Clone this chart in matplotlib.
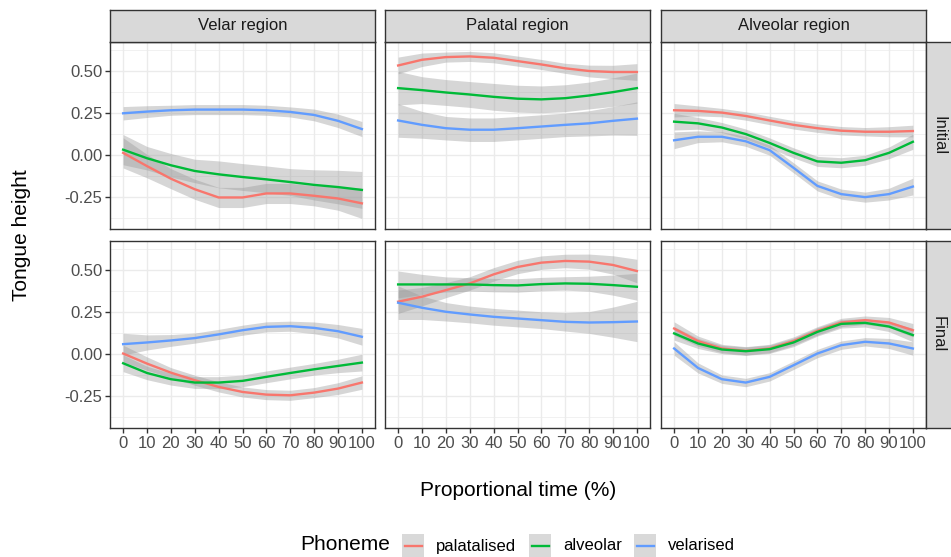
# -*- coding: utf-8 -*-

### Tongue height trajectories, faceted by region and position ###

import matplotlib.pyplot as plt
from matplotlib.lines import Line2D
from matplotlib.patches import Rectangle

plt.rcParams['font.family'] = ['Liberation Sans', 'DejaVu Sans']

## Data ##

time = [0, 10, 20, 30, 40, 50, 60, 70, 80, 90, 100]
regions = ["Velar region", "Palatal region", "Alveolar region"]
positions = ["Initial", "Final"]
phonemes = ["palatalised", "alveolar", "velarised"]

# Initial position
velar_init_pal = [0.014, -0.065, -0.14, -0.203, -0.252, -0.252, -0.228, -0.228, -0.242, -0.258, -0.287]
velar_init_alv = [0.033, -0.018, -0.06, -0.094, -0.114, -0.13, -0.144, -0.16, -0.177, -0.19, -0.207]
velar_init_vel = [0.25, 0.26, 0.268, 0.272, 0.272, 0.272, 0.268, 0.258, 0.24, 0.205, 0.156]
palatal_init_pal = [0.535, 0.569, 0.585, 0.589, 0.581, 0.561, 0.541, 0.518, 0.502, 0.496, 0.496]
palatal_init_alv = [0.40, 0.388, 0.374, 0.362, 0.348, 0.337, 0.333, 0.34, 0.356, 0.376, 0.40]
palatal_init_vel = [0.207, 0.181, 0.161, 0.152, 0.152, 0.161, 0.171, 0.181, 0.19, 0.205, 0.218]
alveolar_init_pal = [0.268, 0.264, 0.254, 0.234, 0.207, 0.181, 0.161, 0.146, 0.14, 0.14, 0.144]
alveolar_init_alv = [0.20, 0.19, 0.165, 0.126, 0.073, 0.014, -0.037, -0.045, -0.03, 0.014, 0.08]
alveolar_init_vel = [0.089, 0.11, 0.11, 0.083, 0.03, -0.075, -0.183, -0.232, -0.25, -0.232, -0.187]

# Final position
velar_fin_pal = [0.004, -0.056, -0.11, -0.155, -0.195, -0.225, -0.241, -0.245, -0.229, -0.205, -0.169]
velar_fin_alv = [-0.054, -0.112, -0.149, -0.169, -0.169, -0.159, -0.135, -0.112, -0.09, -0.07, -0.05]
velar_fin_vel = [0.06, 0.07, 0.082, 0.096, 0.118, 0.143, 0.163, 0.167, 0.157, 0.137, 0.104]
palatal_fin_pal = [0.313, 0.343, 0.382, 0.422, 0.476, 0.52, 0.546, 0.556, 0.552, 0.532, 0.496]
palatal_fin_alv = [0.416, 0.416, 0.416, 0.416, 0.412, 0.41, 0.418, 0.422, 0.42, 0.412, 0.402]
palatal_fin_vel = [0.307, 0.277, 0.253, 0.237, 0.223, 0.213, 0.203, 0.193, 0.189, 0.191, 0.195]
alveolar_fin_pal = [0.153, 0.078, 0.034, 0.02, 0.034, 0.078, 0.139, 0.189, 0.203, 0.189, 0.143]
alveolar_fin_alv = [0.124, 0.064, 0.028, 0.018, 0.03, 0.07, 0.133, 0.181, 0.187, 0.165, 0.114]
alveolar_fin_vel = [0.034, -0.082, -0.149, -0.169, -0.135, -0.066, 0.004, 0.054, 0.074, 0.064, 0.034]

# Confidence band half-widths
velar_init_pal_ci = [0.09, 0.07, 0.06, 0.06, 0.06, 0.06, 0.06, 0.06, 0.06, 0.07, 0.09]
velar_init_alv_ci = [0.09, 0.07, 0.07, 0.07, 0.08, 0.08, 0.08, 0.08, 0.09, 0.10, 0.11]
velar_init_vel_ci = [0.04, 0.035, 0.03, 0.03, 0.03, 0.03, 0.03, 0.03, 0.035, 0.04, 0.045]
palatal_init_pal_ci = [0.05, 0.04, 0.03, 0.03, 0.03, 0.03, 0.03, 0.03, 0.035, 0.04, 0.05]
palatal_init_alv_ci = [0.10, 0.08, 0.077, 0.077, 0.08, 0.08, 0.08, 0.08, 0.08, 0.085, 0.09]
palatal_init_vel_ci = [0.10, 0.08, 0.07, 0.07, 0.07, 0.07, 0.07, 0.07, 0.075, 0.085, 0.10]
alveolar_init_pal_ci = [0.04, 0.03, 0.025, 0.025, 0.025, 0.025, 0.025, 0.025, 0.025, 0.03, 0.035]
alveolar_init_alv_ci = [0.05, 0.035, 0.03, 0.03, 0.03, 0.03, 0.03, 0.03, 0.03, 0.035, 0.045]
alveolar_init_vel_ci = [0.05, 0.035, 0.03, 0.03, 0.03, 0.03, 0.03, 0.03, 0.03, 0.035, 0.05]
velar_fin_pal_ci = [0.05, 0.04, 0.03, 0.03, 0.03, 0.03, 0.03, 0.03, 0.03, 0.035, 0.04]
velar_fin_alv_ci = [0.05, 0.04, 0.035, 0.035, 0.035, 0.035, 0.035, 0.035, 0.035, 0.04, 0.05]
velar_fin_vel_ci = [0.065, 0.045, 0.035, 0.03, 0.03, 0.03, 0.03, 0.03, 0.035, 0.04, 0.05]
palatal_fin_pal_ci = [0.07, 0.055, 0.045, 0.04, 0.04, 0.04, 0.04, 0.04, 0.045, 0.055, 0.07]
palatal_fin_alv_ci = [0.08, 0.06, 0.045, 0.04, 0.04, 0.04, 0.04, 0.04, 0.045, 0.06, 0.08]
palatal_fin_vel_ci = [0.10, 0.07, 0.055, 0.05, 0.05, 0.05, 0.05, 0.055, 0.065, 0.09, 0.12]
alveolar_fin_pal_ci = [0.04, 0.03, 0.025, 0.025, 0.025, 0.025, 0.025, 0.025, 0.025, 0.03, 0.04]
alveolar_fin_alv_ci = [0.04, 0.03, 0.025, 0.025, 0.025, 0.025, 0.025, 0.025, 0.025, 0.03, 0.04]
alveolar_fin_vel_ci = [0.04, 0.03, 0.025, 0.025, 0.025, 0.025, 0.025, 0.025, 0.025, 0.03, 0.04]

series = {
    ("Initial", "Velar region"): [(velar_init_pal, velar_init_pal_ci), (velar_init_alv, velar_init_alv_ci), (velar_init_vel, velar_init_vel_ci)],
    ("Initial", "Palatal region"): [(palatal_init_pal, palatal_init_pal_ci), (palatal_init_alv, palatal_init_alv_ci), (palatal_init_vel, palatal_init_vel_ci)],
    ("Initial", "Alveolar region"): [(alveolar_init_pal, alveolar_init_pal_ci), (alveolar_init_alv, alveolar_init_alv_ci), (alveolar_init_vel, alveolar_init_vel_ci)],
    ("Final", "Velar region"): [(velar_fin_pal, velar_fin_pal_ci), (velar_fin_alv, velar_fin_alv_ci), (velar_fin_vel, velar_fin_vel_ci)],
    ("Final", "Palatal region"): [(palatal_fin_pal, palatal_fin_pal_ci), (palatal_fin_alv, palatal_fin_alv_ci), (palatal_fin_vel, palatal_fin_vel_ci)],
    ("Final", "Alveolar region"): [(alveolar_fin_pal, alveolar_fin_pal_ci), (alveolar_fin_alv, alveolar_fin_alv_ci), (alveolar_fin_vel, alveolar_fin_vel_ci)],
}

## Style ##

colors = ["#F8766D", "#00BA38", "#619CFF"]
W, H = 951, 557
col_left = [110, 385, 661]
col_w = 265
row_top = [42, 241]
row_h = 187
tick_col = "#4D4D4D"
border_col = "#333333"

def rect(x, y, w, h):
    return [x / W, 1 - (y + h) / H, w / W, h / H]

fig = plt.figure(figsize=(W / 100, H / 100), dpi=100)

for r, pos in enumerate(positions):
    for c, reg in enumerate(regions):
        ax = fig.add_axes(rect(col_left[c], row_top[r], col_w, row_h))
        for i, (y, ci) in enumerate(series[(pos, reg)]):
            lo = [a - b for a, b in zip(y, ci)]
            hi = [a + b for a, b in zip(y, ci)]
            ax.fill_between(time, lo, hi, color="#999999", alpha=0.4, linewidth=0, zorder=2)
            ax.plot(time, y, color=colors[i], linewidth=1.7, zorder=3)
        ax.set_xlim(-5.5, 105.5)
        ax.set_ylim(-0.44, 0.675)
        ax.set_xticks(time)
        ax.set_yticks([-0.25, 0.0, 0.25, 0.5])
        ax.set_yticks([-0.375, -0.125, 0.125, 0.375, 0.625], minor=True)
        ax.grid(True, which="major", color="#EBEBEB", linewidth=1.0, zorder=0)
        ax.grid(True, which="minor", axis="y", color="#EBEBEB", linewidth=0.5, zorder=0)
        ax.set_axisbelow(True)
        for s in ax.spines.values():
            s.set_color(border_col)
            s.set_linewidth(1.0)
        ax.tick_params(which="minor", length=0)
        ax.tick_params(which="major", length=3.5, width=1.0, color=border_col,
                       labelsize=12, labelcolor=tick_col, pad=2)
        if r == 1:
            ax.set_xticklabels([str(t) for t in time])
        else:
            ax.tick_params(axis="x", length=0, labelbottom=False)
        if c == 0:
            ax.set_yticklabels(["-0.25", "0.00", "0.25", "0.50"])
        else:
            ax.tick_params(axis="y", length=0, labelleft=False)

# Column strips
for c, reg in enumerate(regions):
    sa = fig.add_axes(rect(col_left[c], 9.5, col_w, 32.5))
    sa.set_facecolor("#D9D9D9")
    sa.set_xticks([])
    sa.set_yticks([])
    for s in sa.spines.values():
        s.set_color(border_col)
        s.set_linewidth(1.0)
    sa.text(0.5, 0.5, reg, ha="center", va="center", fontsize=12, color="#1A1A1A",
            transform=sa.transAxes)

# Row strips
for r, pos in enumerate(positions):
    sa = fig.add_axes(rect(926, row_top[r], 28, row_h))
    sa.set_facecolor("#D9D9D9")
    sa.set_xticks([])
    sa.set_yticks([])
    for s in sa.spines.values():
        s.set_color(border_col)
        s.set_linewidth(1.0)
    sa.text(12.5 / 28, 0.5, pos, ha="center", va="center", fontsize=12, color="#1A1A1A",
            rotation=-90, transform=sa.transAxes)

# Axis titles
fig.text(22 / W, 1 - 235 / H, "Tongue height", rotation=90, ha="center", va="center",
         fontsize=15, color="black")
fig.text(518 / W, 1 - 491 / H, "Proportional time (%)", ha="center", va="center",
         fontsize=15, color="black")

# Legend (ggplot style: grey square keys with a short line)
fig.text(300 / W, 1 - 545 / H, "Phoneme", ha="left", va="center", fontsize=15, color="black")
key_x = [402, 529, 634]
for kx, col, lab in zip(key_x, colors, phonemes):
    fig.add_artist(Rectangle((kx / W, 1 - 557 / H), 22 / W, 23 / H, facecolor="#D9D9D9",
                             edgecolor="none", transform=fig.transFigure))
    fig.add_artist(Line2D([(kx + 2.5) / W, (kx + 19.5) / W], [1 - 546 / H, 1 - 546 / H],
                          color=col, linewidth=1.7, transform=fig.transFigure))
    fig.text((kx + 34) / W, 1 - 546 / H, lab, ha="left", va="center", fontsize=12, color="black")

plt.savefig("out.png", dpi=100)
